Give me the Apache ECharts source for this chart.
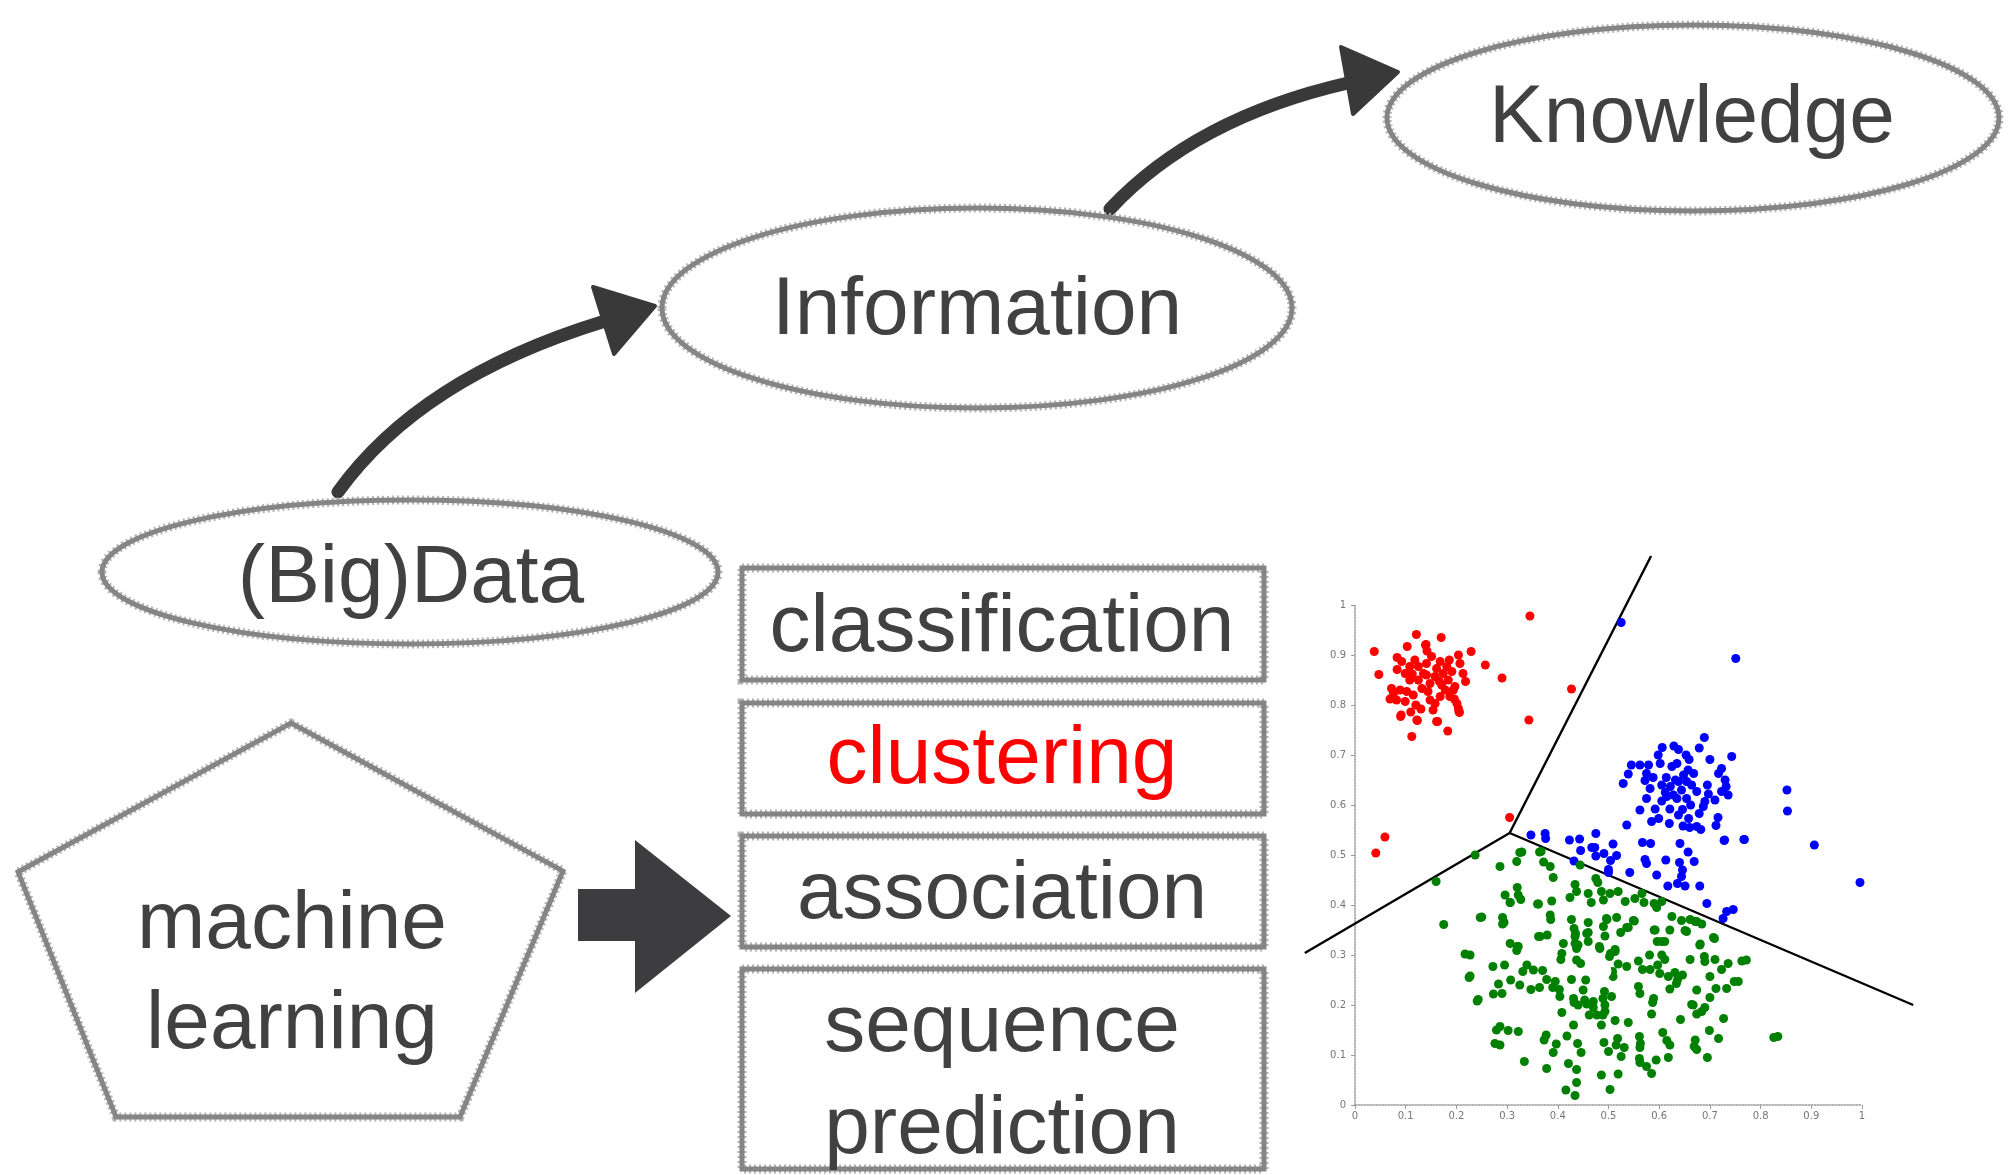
<!DOCTYPE html>
<html>
<head>
<meta charset="utf-8">
<script src="https://cdn.jsdelivr.net/npm/echarts@6/dist/echarts.min.js"></script>
<style>html,body{margin:0;padding:0;background:#fff;}#c{width:2015px;height:1175px;}</style>
</head>
<body>
<div id="c"></div>
<script>
// ---- tick labels of the small scatter plot
const xTicks = ['0','0.1','0.2','0.3','0.4','0.5','0.6','0.7','0.8','0.9','1'];
const yTicks = ['0','0.1','0.2','0.3','0.4','0.5','0.6','0.7','0.8','0.9','1'];

// ---- diagram labels
const ellipseLabels = ['(Big)Data', 'Information', 'Knowledge'];
const taskLabels = ['classification', 'clustering', 'association', 'sequence\nprediction'];
const pentagonLabel = 'machine\nlearning';

// ---- cluster points [x, y]
const redPoints = [
[0.345,0.978],[0.038,0.907],[0.047,0.861],[0.229,0.907],[0.257,0.880],[0.290,0.854],[0.427,0.832],
[0.343,0.770],[0.305,0.575],[0.059,0.536],[0.041,0.504],[0.112,0.737],[0.183,0.748],[0.163,0.767],
[0.121,0.941],[0.170,0.935],[0.140,0.921],[0.103,0.917],[0.091,0.780],[0.123,0.769],[0.110,0.786],
[0.205,0.787],[0.083,0.895],[0.083,0.871],[0.204,0.900],[0.186,0.890],[0.207,0.883],[0.213,0.863],
[0.218,0.847],[0.072,0.833],[0.069,0.812],[0.090,0.777],[0.130,0.792],[0.122,0.770],[0.161,0.767],
[0.154,0.790],[0.204,0.793],[0.206,0.785],[0.201,0.803],[0.187,0.817],[0.168,0.817],[0.158,0.803],
[0.099,0.807],[0.082,0.810],[0.115,0.820],[0.132,0.833],[0.148,0.843],[0.171,0.840],[0.184,0.850],
[0.197,0.837],[0.191,0.867],[0.174,0.863],[0.158,0.857],[0.141,0.860],[0.125,0.850],[0.108,0.850],
[0.099,0.863],[0.108,0.877],[0.125,0.877],[0.141,0.883],[0.151,0.897],[0.168,0.887],[0.161,0.873],
[0.092,0.887],[0.118,0.890],[0.089,0.830],[0.102,0.827],[0.144,0.827],[0.178,0.830],[0.148,0.810],
[0.076,0.823],[0.135,0.863],[0.181,0.877],[0.194,0.830],[0.139,0.920],[0.142,0.908],[0.120,0.800],
[0.166,0.848],[0.113,0.862],[0.196,0.812]
];
const bluePoints = [
[0.689,0.735],[0.606,0.715],[0.629,0.718],[0.638,0.711],[0.679,0.714],[0.598,0.700],[0.653,0.700],
[0.659,0.691],[0.700,0.691],[0.743,0.697],[0.545,0.680],[0.562,0.680],[0.579,0.680],[0.602,0.683],
[0.625,0.677],[0.635,0.683],[0.657,0.670],[0.723,0.673],[0.717,0.663],[0.539,0.662],[0.529,0.643],
[0.575,0.663],[0.588,0.655],[0.572,0.649],[0.582,0.633],[0.605,0.640],[0.622,0.637],[0.638,0.647],
[0.654,0.647],[0.664,0.640],[0.644,0.630],[0.628,0.620],[0.615,0.617],[0.635,0.613],[0.654,0.613],
[0.674,0.627],[0.730,0.650],[0.732,0.637],[0.736,0.620],[0.723,0.627],[0.697,0.622],[0.710,0.610],
[0.690,0.607],[0.687,0.597],[0.575,0.613],[0.605,0.608],[0.562,0.590],[0.592,0.592],[0.621,0.592],
[0.646,0.591],[0.662,0.600],[0.679,0.583],[0.638,0.580],[0.658,0.573],[0.599,0.573],[0.585,0.567],
[0.620,0.563],[0.647,0.558],[0.660,0.555],[0.674,0.557],[0.682,0.551],[0.716,0.575],[0.712,0.559],
[0.536,0.560],[0.729,0.530],[0.768,0.531],[0.852,0.630],[0.853,0.588],[0.906,0.520],[0.525,0.965],
[0.751,0.893],[0.996,0.445],[0.347,0.540],[0.375,0.543],[0.376,0.533],[0.423,0.530],[0.443,0.532],
[0.475,0.543],[0.467,0.515],[0.473,0.515],[0.445,0.509],[0.509,0.522],[0.475,0.498],[0.491,0.503],
[0.516,0.499],[0.504,0.489],[0.432,0.488],[0.500,0.471],[0.500,0.465],[0.542,0.465],[0.567,0.525],
[0.583,0.523],[0.572,0.491],[0.575,0.483],[0.595,0.460],[0.613,0.490],[0.641,0.523],[0.657,0.506],
[0.640,0.485],[0.646,0.470],[0.644,0.457],[0.636,0.443],[0.617,0.438],[0.651,0.438],[0.669,0.487],
[0.680,0.438],[0.694,0.403],[0.728,0.529],[0.767,0.531],[0.733,0.387],[0.746,0.391],[0.726,0.373],
[0.614,0.655],[0.648,0.660],[0.668,0.663],[0.632,0.650],[0.612,0.625],[0.695,0.640]
];
const greenPoints = [
[0.325,0.505],[0.319,0.487],[0.364,0.506],[0.372,0.486],[0.385,0.477],[0.391,0.455],[0.444,0.480],
[0.286,0.477],[0.320,0.435],[0.322,0.420],[0.327,0.411],[0.296,0.420],[0.306,0.405],[0.360,0.402],
[0.388,0.408],[0.434,0.441],[0.437,0.427],[0.424,0.415],[0.475,0.453],[0.479,0.445],[0.460,0.423],
[0.466,0.405],[0.486,0.427],[0.503,0.423],[0.519,0.427],[0.490,0.410],[0.533,0.407],[0.552,0.413],
[0.566,0.423],[0.570,0.405],[0.590,0.403],[0.605,0.407],[0.595,0.395],[0.625,0.377],[0.644,0.369],
[0.661,0.371],[0.671,0.367],[0.684,0.362],[0.680,0.320],[0.709,0.333],[0.590,0.350],[0.621,0.350],
[0.605,0.327],[0.651,0.349],[0.549,0.369],[0.536,0.355],[0.516,0.375],[0.497,0.371],[0.490,0.357],
[0.493,0.338],[0.524,0.345],[0.460,0.365],[0.460,0.345],[0.427,0.371],[0.432,0.353],[0.434,0.337],
[0.385,0.380],[0.386,0.371],[0.365,0.337],[0.379,0.340],[0.291,0.375],[0.291,0.362],[0.306,0.323],
[0.322,0.317],[0.411,0.323],[0.440,0.320],[0.482,0.317],[0.513,0.311],
[0.237,0.500],[0.160,0.447],[0.175,0.361],[0.250,0.376],[0.217,0.302],[0.227,0.300],[0.227,0.258],
[0.243,0.211],[0.834,0.137],[0.772,0.290],[0.756,0.247],[0.329,0.506],[0.367,0.507],[0.294,0.365],
[0.247,0.375],[0.306,0.405],[0.362,0.402],[0.435,0.343],[0.457,0.343],[0.460,0.327],[0.496,0.373],
[0.539,0.355],[0.551,0.368],[0.592,0.350],[0.654,0.347],[0.674,0.367],[0.707,0.335],[0.681,0.322],
[0.362,0.337],[0.320,0.317],[0.319,0.309],[0.225,0.255],[0.272,0.277],[0.295,0.280],[0.307,0.250],
[0.283,0.242],[0.273,0.222],[0.290,0.223],[0.325,0.240],[0.331,0.267],[0.339,0.280],[0.352,0.270],
[0.370,0.269],[0.347,0.231],[0.364,0.235],[0.378,0.251],[0.395,0.247],[0.390,0.235],[0.403,0.231],
[0.404,0.217],[0.408,0.303],[0.406,0.291],[0.434,0.323],[0.437,0.313],[0.437,0.290],[0.445,0.283],
[0.483,0.313],[0.504,0.303],[0.513,0.307],[0.502,0.297],[0.519,0.282],[0.536,0.277],[0.508,0.267],
[0.509,0.257],[0.427,0.251],[0.455,0.250],[0.450,0.230],[0.431,0.213],[0.453,0.210],[0.470,0.207],
[0.492,0.227],[0.489,0.213],[0.506,0.217],[0.470,0.195],[0.559,0.288],[0.567,0.271],[0.581,0.300],
[0.582,0.271],[0.597,0.280],[0.605,0.300],[0.611,0.291],[0.596,0.327],[0.611,0.327],[0.601,0.263],
[0.618,0.257],[0.631,0.265],[0.636,0.250],[0.646,0.260],[0.621,0.232],[0.634,0.243],[0.559,0.237],
[0.562,0.223],[0.589,0.213],[0.661,0.291],[0.689,0.297],[0.690,0.287],[0.710,0.291],[0.700,0.257],
[0.723,0.271],[0.736,0.283],[0.763,0.288],[0.674,0.230],[0.712,0.233],[0.733,0.233],[0.748,0.247],
[0.700,0.215],[0.667,0.200],[0.690,0.195],
[0.241,0.208],[0.408,0.185],[0.432,0.205],[0.440,0.200],[0.457,0.202],[0.462,0.180],[0.477,0.180],
[0.489,0.180],[0.493,0.200],[0.493,0.187],[0.486,0.160],[0.513,0.169],[0.539,0.165],[0.587,0.205],
[0.585,0.182],[0.664,0.201],[0.684,0.187],[0.674,0.182],[0.642,0.171],[0.727,0.173],[0.699,0.149],
[0.717,0.133],[0.286,0.157],[0.279,0.150],[0.302,0.149],[0.322,0.147],[0.276,0.123],[0.286,0.120],
[0.334,0.087],[0.377,0.140],[0.373,0.130],[0.397,0.122],[0.391,0.105],[0.418,0.138],[0.431,0.160],
[0.439,0.123],[0.446,0.105],[0.378,0.073],[0.421,0.083],[0.437,0.071],[0.437,0.045],[0.416,0.030],
[0.434,0.019],[0.486,0.060],[0.519,0.062],[0.503,0.031],[0.491,0.125],[0.500,0.107],[0.515,0.120],
[0.518,0.133],[0.531,0.115],[0.525,0.097],[0.561,0.137],[0.563,0.123],[0.562,0.115],[0.561,0.093],
[0.562,0.085],[0.575,0.077],[0.585,0.063],[0.594,0.090],[0.607,0.145],[0.615,0.129],[0.621,0.120],
[0.618,0.095],[0.671,0.130],[0.669,0.117],[0.674,0.111],[0.695,0.095],[0.826,0.135]
];
const centroidPoint = [[0.490,0.268]];

// ---- Voronoi boundary segments [x, y]
const boundaryUp = [[0.305,0.544],[0.584,1.098]];
const boundaryLeft = [[0.305,0.544],[-0.099,0.304]];
const boundaryRight = [[0.305,0.544],[1.101,0.200]];

const chart = echarts.init(document.getElementById('c'), null, {renderer:'canvas'});

const FONT = '82px "Liberation Sans", Arial, sans-serif';
const TXT = '#414141';
const GRAY = '#858585';
const FUZZ = '#b4b4b4';
const DARK = '#393939';

function txt(t, x, y, color, lh) {
  return {type:'text', x:x, y:y, z:10,
    style:{text:t, font:FONT, fill:color||TXT, align:'center', verticalAlign:'middle',
           textAlign:'center', textVerticalAlign:'middle', lineHeight:lh||100}};
}
// sketchy outline: a light dotted fringe under a solid grey core
function sketch(type, shape) {
  return [
    {type:type, shape:shape, z:1, style:{fill:'none', stroke:FUZZ, lineWidth:9, lineDash:[2,3]}},
    {type:type, shape:shape, z:2, style:{fill:'none', stroke:GRAY, lineWidth:5}}
  ];
}

const graphics = [].concat(
  sketch('ellipse', {cx:410, cy:572, rx:308, ry:72}),
  sketch('ellipse', {cx:977, cy:308, rx:315, ry:100}),
  sketch('ellipse', {cx:1693, cy:118, rx:306, ry:93}),
  sketch('rect', {x:742, y:568, width:522, height:112}),
  sketch('rect', {x:742, y:703, width:522, height:111}),
  sketch('rect', {x:742, y:836, width:522, height:111}),
  sketch('rect', {x:742, y:969, width:522, height:200}),
  sketch('polygon', {points:[[291,723],[563,871],[460,1117],[116,1117],[18,872]]}),
  [
  txt(ellipseLabels[0], 411, 579),
  txt(ellipseLabels[1], 977, 311),
  txt(ellipseLabels[2], 1692, 119),
  // curved arrows
  {type:'bezierCurve', shape:{x1:338, y1:492, x2:602, y2:322, cpx1:420, cpy1:378},
   style:{stroke:DARK, lineWidth:13, fill:'none', lineCap:'round'}},
  {type:'polygon', shape:{points:[[593,287],[655,306],[614,354]]}, style:{fill:DARK, stroke:DARK, lineWidth:4, lineJoin:'round'}},
  {type:'bezierCurve', shape:{x1:1110, y1:209, x2:1348, y2:83, cpx1:1195, cpy1:118},
   style:{stroke:DARK, lineWidth:13, fill:'none', lineCap:'round'}},
  {type:'polygon', shape:{points:[[1341,47],[1398,72],[1353,114]]}, style:{fill:DARK, stroke:DARK, lineWidth:4, lineJoin:'round'}},
  txt(taskLabels[0], 1002, 628),
  txt(taskLabels[1], 1002, 760, '#ff0000'),
  txt(taskLabels[2], 1002, 895),
  txt(taskLabels[3], 1002, 1079, null, 102),
  txt(pentagonLabel, 292, 975),
  // block arrow
  {type:'polygon', shape:{points:[[578,889],[635,889],[635,840],[731,916],[635,993],[635,941],[578,941]]},
   style:{fill:'#3d3d3f', stroke:'none'}}
  ]
);

const axisCommon = {
  axisLine:{show:true, onZero:false, lineStyle:{color:'#9a9a9a', type:'dotted', width:1.5}},
  axisTick:{show:true, inside:false, length:4, lineStyle:{color:'#9a9a9a'}},
  splitLine:{show:false}
};

const option = {
  backgroundColor:'#ffffff',
  animation:false,
  grid:[
    {left:1355, top:605, width:507, height:500, containLabel:false},
    // same scale, widened by 0.1 on each side, for the boundary lines that leave the plot
    {left:1355 - 50.7, top:605, width:507 * 1.2, height:500, containLabel:false, show:false}
  ],
  xAxis:[
    Object.assign({type:'value', gridIndex:0, min:0, max:1, interval:0.1,
      axisLabel:{margin:6, fontSize:10, color:'#777', fontFamily:'"DejaVu Sans", sans-serif',
        formatter:function(v){ return xTicks[Math.round(v*10)]; }}}, axisCommon),
    {type:'value', gridIndex:1, min:-0.1, max:1.1, show:false}
  ],
  yAxis:[
    Object.assign({type:'value', gridIndex:0, min:0, max:1, interval:0.1,
      axisLabel:{margin:9, fontSize:10, color:'#777', fontFamily:'"DejaVu Sans", sans-serif',
        formatter:function(v){ return yTicks[Math.round(v*10)]; }}}, axisCommon),
    {type:'value', gridIndex:1, min:0, max:1, show:false}
  ],
  graphic:graphics,
  series:[
    {type:'line', xAxisIndex:1, yAxisIndex:1, data:boundaryUp, clip:false, symbol:'none', lineStyle:{color:'#000', width:2.4}, z:3},
    {type:'line', xAxisIndex:1, yAxisIndex:1, data:boundaryLeft, clip:false, symbol:'none', lineStyle:{color:'#000', width:2.4}, z:3},
    {type:'line', xAxisIndex:1, yAxisIndex:1, data:boundaryRight, clip:false, symbol:'none', lineStyle:{color:'#000', width:2.4}, z:3},
    {type:'scatter', data:redPoints, symbolSize:9, itemStyle:{color:'#ff0000', opacity:1}, clip:false, z:4},
    {type:'scatter', data:bluePoints, symbolSize:9, itemStyle:{color:'#0000ff', opacity:1}, clip:false, z:4},
    {type:'scatter', data:greenPoints, symbolSize:9, itemStyle:{color:'#008000', opacity:1}, clip:false, z:4},
    {type:'scatter', data:centroidPoint, symbol:'emptyCircle', symbolSize:14, itemStyle:{color:'#ffffff', borderColor:'#2a7a2a', borderWidth:1.5, opacity:1}, z:5}
  ]
};
chart.setOption(option);
</script>
</body>
</html>
